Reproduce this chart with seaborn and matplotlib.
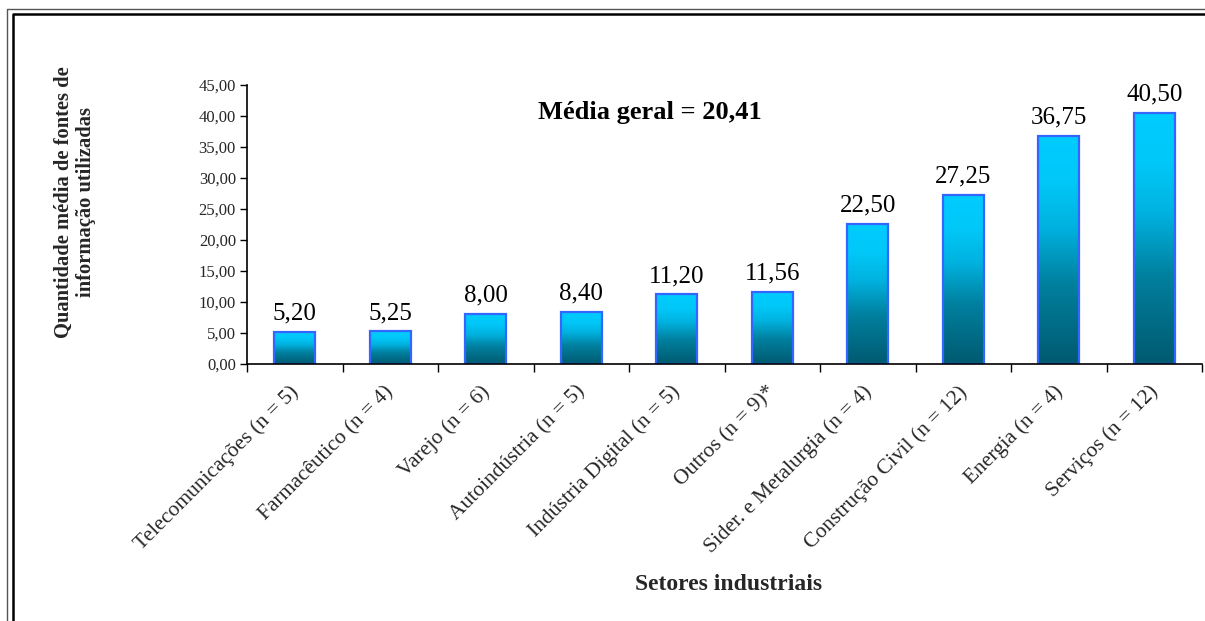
import numpy as np
import pandas as pd
import matplotlib
matplotlib.use("Agg")
import matplotlib.pyplot as plt
import matplotlib.transforms as mtransforms
import seaborn as sns
from matplotlib.colors import LinearSegmentedColormap
from matplotlib.lines import Line2D

# Data
setores = [
    "Telecomunicações (n = 5)",
    "Farmacêutico (n = 4)",
    "Varejo (n = 6)",
    "Autoindústria (n = 5)",
    "Indústria Digital (n = 5)",
    "Outros (n = 9)*",
    "Sider. e Metalurgia (n = 4)",
    "Construção Civil (n = 12)",
    "Energia (n = 4)",
    "Serviços (n = 12)",
]
media_fontes = [5.20, 5.25, 8.00, 8.40, 11.20, 11.56, 22.50, 27.25, 36.75, 40.50]
media_geral = 20.41
y_ticks = [0, 5, 10, 15, 20, 25, 30, 35, 40, 45]

df = pd.DataFrame({"setor": setores, "media": media_fontes})

sns.set_theme(style="white")
plt.rcParams["font.family"] = ["Liberation Serif", "DejaVu Serif"]

fig = plt.figure(figsize=(12.05, 6.21), dpi=100)
ax = fig.add_axes([247 / 1205, 1 - 364 / 621, (1202 - 247) / 1205, (364 - 84.7) / 621])

sns.barplot(data=df, x="setor", y="media", ax=ax, width=0.43,
            color="white", edgecolor="#3366FF", linewidth=1.6, saturation=1)

# Vertical gradient inside each bar (dark teal at base, bright cyan on top)
cmap = LinearSegmentedColormap.from_list(
    "cyan_teal",
    [(0.0, "#005A70"), (0.35, "#00809F"), (0.6, "#00B2E0"), (0.8, "#00C8F8"), (1.0, "#00CCFF")],
)
grad = np.linspace(0, 1, 256).reshape(-1, 1)
for bar in ax.patches:
    x0, w, h = bar.get_x(), bar.get_width(), bar.get_height()
    im = ax.imshow(grad, cmap=cmap, origin="lower", aspect="auto",
                   extent=(x0, x0 + w, 0, h), zorder=bar.get_zorder() - 0.1)
    im.set_clip_path(bar)
    bar.set_facecolor("none")

ax.set_xlim(-0.5, len(setores) - 0.5)
ax.set_ylim(0, 45)

# Value labels
for i, v in enumerate(media_fontes):
    ax.text(i, v + 1.2, f"{v:.2f}".replace(".", ","), ha="center", va="bottom",
            fontsize=18, color="black")

ax.text(3.72, 40.5, f"Média geral = {media_geral:.2f}".replace(".", ","),
        ha="center", va="center", fontsize=19, fontweight="bold", color="black")

# Axes styling
for side in ["top", "right"]:
    ax.spines[side].set_visible(False)
for side in ["left", "bottom"]:
    ax.spines[side].set_color("black")
    ax.spines[side].set_linewidth(1.2)

ax.set_yticks(y_ticks)
ax.set_yticklabels([f"{t:.2f}".replace(".", ",") for t in y_ticks], fontsize=12)
ax.tick_params(axis="y", direction="out", length=5, width=1, color="black", pad=3, left=True)

ax.set_xticks(range(len(setores)))
ax.set_xticklabels(setores, rotation=45, ha="right", rotation_mode="anchor", fontsize=15.5)
ax.tick_params(axis="x", which="major", length=0, pad=13, bottom=True)
ax.set_xticks(np.arange(-0.5, len(setores), 1), minor=True)
ax.tick_params(axis="x", which="minor", direction="out", length=6, width=1, color="black", bottom=True)

# Nudge the slanted category labels slightly left so they end under the bar centres
shift = mtransforms.ScaledTranslation(-6 / 100, 0, fig.dpi_scale_trans)
for lbl in ax.get_xticklabels():
    lbl.set_transform(lbl.get_transform() + shift)

ax.set_xlabel("")
ax.set_ylabel("")

fig.text(729 / 1205, 1 - 585 / 621, "Setores industriais", ha="center", va="center",
         fontsize=17, fontweight="bold")
fig.text(75 / 1205, 1 - 202 / 621, "Quantidade média de fontes de\ninformação utilizadas",
         ha="center", va="center", rotation=90, fontsize=14.8, fontweight="bold",
         linespacing=1.2)

# Double frame around the chart area
W, H = 1205, 621
def fx(px): return px / W
def fy(py): return 1 - py / H
fig.add_artist(Line2D([fx(6.5), fx(6.5), fx(1210)], [fy(630), fy(8.5), fy(8.5)],
                      color="#555555", linewidth=1.0))
fig.add_artist(Line2D([fx(12.5), fx(12.5), fx(1210)], [fy(630), fy(13.5), fy(13.5)],
                      color="black", linewidth=1.8))

fig.savefig("out.png", dpi=100, facecolor="white")
